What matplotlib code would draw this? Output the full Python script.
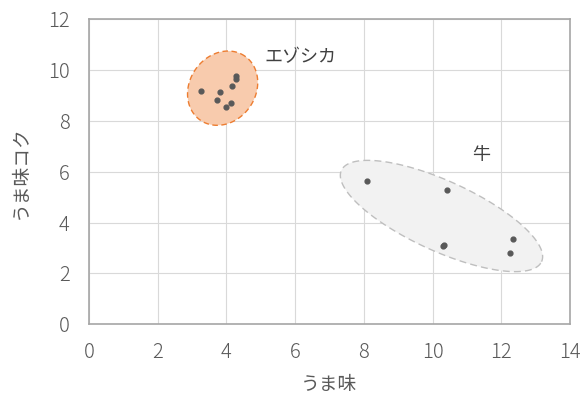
import numpy as np
import matplotlib
matplotlib.use("Agg")
import matplotlib.pyplot as plt
from matplotlib.patches import Polygon

plt.rcParams['font.family'] = ['Noto Sans CJK JP', 'DejaVu Sans']

# エゾシカ (deer) samples
deer_umami = [3.27, 3.81, 3.72, 4.15, 4.28, 4.28, 4.12, 3.99]
deer_koku = [9.18, 9.13, 8.82, 9.37, 9.78, 9.67, 8.70, 8.53]

# 牛 (beef) samples
beef_umami = [8.10, 10.42, 10.30, 10.34, 12.33, 12.24]
beef_koku = [5.63, 5.28, 3.06, 3.12, 3.35, 2.82]

x_ticks = [0, 2, 4, 6, 8, 10, 12, 14]
y_ticks = [0, 2, 4, 6, 8, 10, 12]

fig = plt.figure(figsize=(5.87, 3.94), dpi=100)
ax = fig.add_axes([0.1516, 0.177, 0.8194, 0.774])
ax.set_xlim(0, 14)
ax.set_ylim(0, 12)


def ellipse_poly(cx, cy, a_px, b_px, angle_deg, n=200):
    """Ellipse given in screen-pixel semi-axes, converted to data units."""
    bbox = ax.get_window_extent()
    sx = bbox.width / 14.0
    sy = bbox.height / 12.0
    t = np.linspace(0, 2 * np.pi, n)
    th = np.deg2rad(angle_deg)
    px = a_px * np.cos(t) * np.cos(th) - b_px * np.sin(t) * np.sin(th)
    py = a_px * np.cos(t) * np.sin(th) + b_px * np.sin(t) * np.cos(th)
    return np.column_stack([cx + px / sx, cy + py / sy])


fig.canvas.draw()
deer_shape = Polygon(ellipse_poly(3.89, 9.29, 39, 33, 55), closed=True,
                     facecolor='#F8CBAD', edgecolor='#ED7D31', lw=1.0,
                     linestyle=(0, (4, 2.5)), zorder=2)
beef_shape = Polygon(ellipse_poly(10.26, 4.26, 110, 35, -24.5), closed=True,
                     facecolor='#F2F2F2', edgecolor='#BFBFBF', lw=1.0,
                     linestyle=(0, (5, 3)), zorder=2)
ax.add_patch(deer_shape)
ax.add_patch(beef_shape)

ax.scatter(deer_umami, deer_koku, s=12, color='#595959', zorder=3)
ax.scatter(beef_umami, beef_koku, s=12, color='#595959', zorder=3)

ax.text(5.1, 10.52, 'エゾシカ', fontsize=13, color='#404040', va='center', ha='left')
ax.text(11.4, 6.65, '牛', fontsize=13, color='#404040', va='center', ha='center')

ax.set_xticks(x_ticks)
ax.set_yticks(y_ticks)
ax.grid(True, color='#D9D9D9', lw=0.8, zorder=0)
ax.set_axisbelow(True)
ax.tick_params(length=0, labelsize=14.5, colors='#595959')
ax.tick_params(axis='y', pad=14)
ax.tick_params(axis='x', pad=13)
for lbl in ax.get_xticklabels() + ax.get_yticklabels():
    lbl.set_fontweight('light')
for s in ax.spines.values():
    s.set_color('#A6A6A6')
    s.set_linewidth(1.2)

ax.set_xlabel('うま味', fontsize=13.5, color='#595959', labelpad=8)
ax.set_ylabel('うま味コク', fontsize=13.5, color='#595959', labelpad=12)

fig.savefig('out.png', dpi=100)
